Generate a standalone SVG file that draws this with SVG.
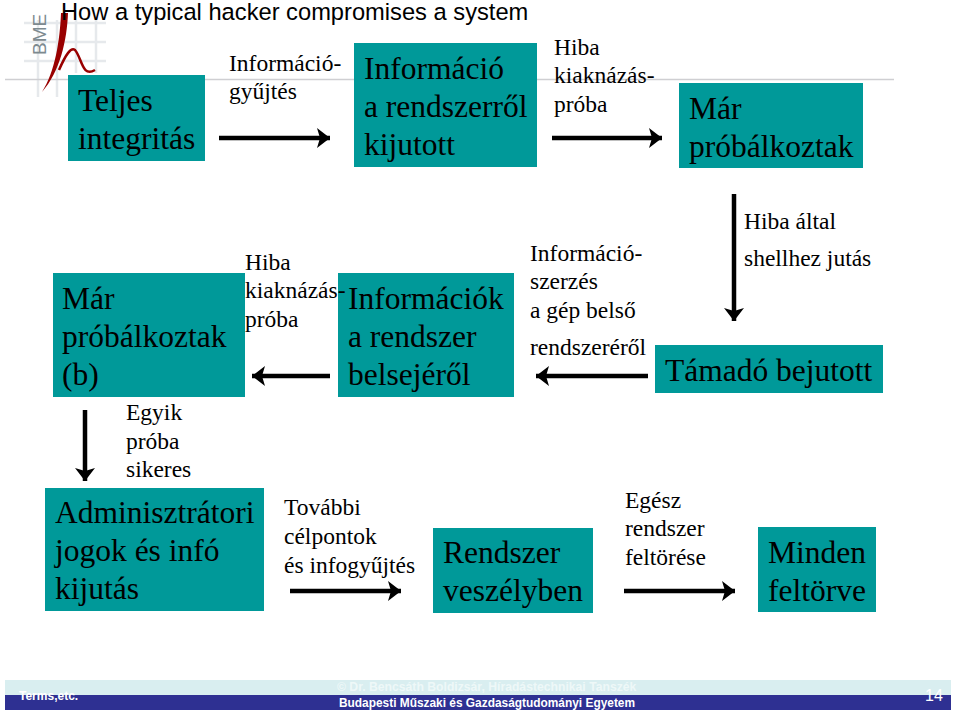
<svg xmlns="http://www.w3.org/2000/svg" width="960" height="711" viewBox="0 0 960 711">
<defs>
<marker id="ah" markerUnits="userSpaceOnUse" markerWidth="16" markerHeight="24" refX="13" refY="12" orient="auto" viewBox="0 0 16 24"><path d="M0 2L13 12L0 22L3 12Z" fill="#000"/></marker>
</defs>
<style>
text{font-family:"Liberation Serif","Times New Roman",serif;fill:#000}
.b{font-size:31.5px}
.s{font-size:23.5px}
.box{fill:#009999}
.c{stroke:#000;stroke-width:4.5;fill:none;marker-end:url(#ah)}
.g{stroke:#e6e9ec;stroke-width:2.5;fill:none}
.sans{font-family:"Liberation Sans",Arial,sans-serif}
</style>
<rect width="960" height="711" fill="#fff"/>
<g id="logo">
<path class="g" d="M24 23H106M24 42H106M24 61H106M38 20V97M57 20V97M76 20V73M96 20V73"/>
<path d="M5 79.5H894" stroke="#cfcfd2" stroke-width="1.5" fill="none"/>
<text class="sans" transform="translate(46 55) rotate(-90)" style="font-size:19px;fill:#7d8a8f">BME</text>
<path d="M61 13H68C67 40 60 72 42 92C55 72 60 40 61 13Z" fill="#990000"/>
<path d="M59 70C66 54 71 47 75 50C82 58 82 78 95 70" fill="none" stroke="#990000" stroke-width="2.5"/>
</g>
<g id="footer">
<rect x="5" y="680" width="946" height="15" fill="#d9eef0"/>
<rect x="5" y="695" width="946" height="15" fill="#2e3092"/>
<text class="sans" x="337" y="691" style="font-size:12.2px;font-weight:bold;fill:#eef8f8">© Dr. Bencsáth Boldizsár, Híradástechnikai Tanszék</text>
<text class="sans" x="339" y="707" style="font-size:11.9px;font-weight:bold;fill:#fff">Budapesti Műszaki és Gazdaságtudományi Egyetem</text>
<text class="sans" x="19" y="700" style="font-size:12px;font-weight:bold;fill:#fff">Terms,etc.</text>
<text class="sans" x="925" y="701" style="font-size:16px;fill:#fff">14</text>
</g>
<text id="title" class="sans" x="61" y="20" style="font-size:23.7px">How a typical hacker compromises a system</text>
<g id="n1"><rect class="box" x="68" y="75" width="137" height="86"/><text class="b" x="78" y="111">Teljes</text><text class="b" x="78" y="149">integritás</text></g>
<g id="n2"><rect class="box" x="354" y="43" width="183" height="124"/><text class="b" x="364" y="79">Információ</text><text class="b" x="364" y="117">a rendszerről</text><text class="b" x="364" y="155">kijutott</text></g>
<g id="n3"><rect class="box" x="679" y="83" width="184" height="85"/><text class="b" x="689" y="119">Már</text><text class="b" x="689" y="157">próbálkoztak</text></g>
<g id="n4"><rect class="box" x="53" y="273" width="192" height="124"/><text class="b" x="62" y="309">Már</text><text class="b" x="62" y="347">próbálkoztak</text><text class="b" x="62" y="385">(b)</text></g>
<g id="n5"><rect class="box" x="338" y="273" width="176" height="124"/><text class="b" x="348" y="309">Információk</text><text class="b" x="348" y="347">a rendszer</text><text class="b" x="348" y="385">belsejéről</text></g>
<g id="n6"><rect class="box" x="655" y="345" width="228" height="48"/><text class="b" x="665" y="381">Támadó bejutott</text></g>
<g id="n7"><rect class="box" x="45" y="488" width="219" height="123"/><text class="b" x="55" y="523">Adminisztrátori</text><text class="b" x="55" y="561">jogok és infó</text><text class="b" x="55" y="599">kijutás</text></g>
<g id="n8"><rect class="box" x="433" y="528" width="160" height="85"/><text class="b" x="443" y="563">Rendszer</text><text class="b" x="443" y="601">veszélyben</text></g>
<g id="n9"><rect class="box" x="758" y="527" width="118" height="85"/><text class="b" x="768" y="563">Minden</text><text class="b" x="768" y="601">feltörve</text></g>
<g id="connectors">
<path class="c" d="M219 138H330"/>
<path class="c" d="M552 138H662"/>
<path class="c" d="M734 194V321"/>
<path class="c" d="M648 376H536"/>
<path class="c" d="M330 376H252"/>
<path class="c" d="M85 410V481"/>
<path class="c" d="M290 591H401"/>
<path class="c" d="M624 591H735"/>
</g>
<g id="labels">
<text class="s" x="229" y="71">Információ-</text><text class="s" x="229" y="99">gyűjtés</text>
<text class="s" x="554" y="55">Hiba</text><text class="s" x="554" y="83">kiaknázás-</text><text class="s" x="554" y="112">próba</text>
<text class="s" x="744" y="229">Hiba által</text><text class="s" x="744" y="266">shellhez jutás</text>
<text class="s" x="530" y="261">Információ-</text><text class="s" x="530" y="289">szerzés</text><text class="s" x="530" y="318">a gép belső</text><text class="s" x="530" y="355">rendszeréről</text>
<text class="s" x="245" y="270">Hiba</text><text class="s" x="245" y="298">kiaknázás-</text><text class="s" x="245" y="327">próba</text>
<text class="s" x="126" y="420">Egyik</text><text class="s" x="126" y="449">próba</text><text class="s" x="126" y="477">sikeres</text>
<text class="s" x="284" y="515">További</text><text class="s" x="284" y="544">célpontok</text><text class="s" x="284" y="573">és infogyűjtés</text>
<text class="s" x="625" y="508">Egész</text><text class="s" x="625" y="536">rendszer</text><text class="s" x="625" y="565">feltörése</text>
</g>
</svg>
